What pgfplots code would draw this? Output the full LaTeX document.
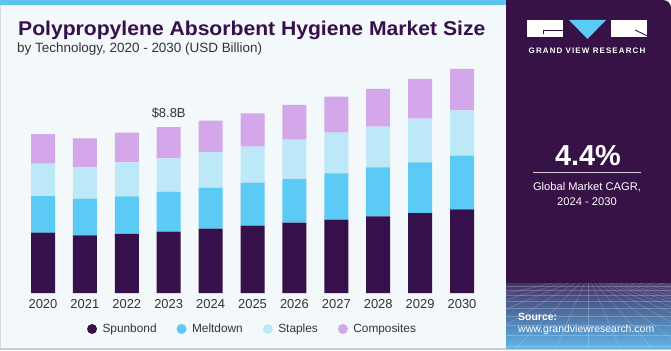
\documentclass[border=0pt]{standalone}
\usepackage{pgfplots}
\usepackage{pgfplotstable}
\pgfplotsset{compat=1.18}
\usepackage{fontspec}
\setmainfont{Liberation Sans}
\newfontfamily\gvrfont[LetterSpace=14]{Liberation Sans}
\definecolor{spun}{HTML}{36104A}
\definecolor{melt}{HTML}{5BCAF5}
\definecolor{stap}{HTML}{BCE8F8}
\definecolor{comp}{HTML}{D4A7EA}
\definecolor{cardbg}{HTML}{F3F8FB}
\definecolor{panel}{HTML}{371247}
\definecolor{gradtop}{HTML}{443468}
\definecolor{panelbot}{HTML}{5FB6E8}
\definecolor{stripe}{HTML}{5BC5EE}
\definecolor{txt}{HTML}{333333}
\definecolor{titlec}{HTML}{36104A}

\pgfplotstableread{
x spun melt stap comp
0 3.20 1.94 1.72 1.57
1 3.06 1.94 1.68 1.52
2 3.14 1.99 1.80 1.57
3 3.25 2.11 1.78 1.65
4 3.41 2.17 1.88 1.68
5 3.57 2.28 1.91 1.76
6 3.73 2.31 2.09 1.84
7 3.89 2.45 2.16 1.91
8 4.06 2.60 2.16 2.01
9 4.24 2.69 2.31 2.11
10 4.43 2.85 2.40 2.20
}\datatable

\begin{document}
\begin{tikzpicture}[x=1bp,y=1bp]
% canvas
\fill[white] (0,0) rectangle (671,350);
\fill[cardbg] (0,2) rectangle (506,350);
\fill[black!20] (0,0) rectangle (671,2);
\draw[black!15, line width=0.8bp] (0.4,2) -- (0.4,346);
\fill[stripe] (0,345) rectangle (507,350);
% right panel
\fill[panel] (506,2) -- (506,350) [rounded corners=8bp] -- (671,350) [sharp corners] -- (671,2) -- cycle;
\shade[top color=gradtop, bottom color=panelbot] (506,2) rectangle (671,67);
\begin{scope}
\clip (506,2) rectangle (671,67);
\foreach \yy in {64,60,55,49,42,34,25,15,4} {\draw[white, opacity=0.22, line width=0.5bp] (506,\yy) -- (671,\yy);}
\foreach \xx in {-200,-150,-110,-75,-45,-20,0,20,40,60,80,100,120,140,160,185,215,250,290,340,400} {\draw[white, opacity=0.22, line width=0.5bp] (588,75) -- (588+\xx*1.6,2);}
\end{scope}
% logo
\fill[white] (527,313) rectangle (563,330);
\fill[white] (610.7,313) rectangle (647,330);
\fill[melt] (569,330) -- (606,330) -- (587.5,311) -- cycle;
\draw[panel, line width=0.9bp] (543.3,315.7) -- (543.3,319.3) -- (563,319.3);
\draw[panel, line width=0.9bp] (635,320) -- (647,314.3);
\node[text=white, anchor=base, inner sep=0pt] at (587,296.5) {\gvrfont\bfseries\fontsize{8}{8}\selectfont GRAND VIEW RESEARCH};
% KPI
\node[text=white, anchor=base, inner sep=0pt] at (588,184.3) {\bfseries\fontsize{29}{29}\selectfont 4.4\%};
\draw[white!80!panel, line width=0.9bp] (533,177.3) -- (641,177.3);
\node[text=white, anchor=base, inner sep=0pt] at (587,160) {\fontsize{11.2}{11.2}\selectfont Global Market CAGR,};
\node[text=white, anchor=base, inner sep=0pt] at (587,145) {\fontsize{11.2}{11.2}\selectfont 2024 - 2030};
\node[text=white, anchor=base west, inner sep=0pt] at (518,30) {\bfseries\fontsize{10.5}{10.5}\selectfont Source:};
\node[text=white, anchor=base west, inner sep=0pt] at (518,17.3) {\fontsize{10.5}{10.5}\selectfont www.grandviewresearch.com};
% titles
\node[text=titlec, anchor=base west, inner sep=0pt] at (18,315) {\scalebox{1.06}[1]{\bfseries\fontsize{20}{20}\selectfont Polypropylene Absorbent Hygiene Market Size}};
\node[text=txt, anchor=base west, inner sep=0pt] at (17,297.3) {\fontsize{13.5}{13.5}\selectfont by Technology, 2020 - 2030 (USD Billion)};

\begin{axis}[
  at={(22.05bp,57bp)}, anchor=south west, scale only axis,
  width=460.9bp, height=226.3bp,
  xmin=-0.5, xmax=10.5, ymin=0, ymax=12,
  ybar stacked, bar width=24bp,
  axis line style={draw=none},
  ytick=\empty,
  xtick=data,
  xticklabels={2020,2021,2022,2023,2024,2025,2026,2027,2028,2029,2030},
  major tick length=0pt,
  /pgf/number format/assume math mode=true,
  xticklabel style={font=\fontsize{13}{13}\selectfont, text=txt, anchor=base, inner sep=0pt, yshift=-15.3bp},
  clip=false,
  legend columns=4,
  legend style={at={(0.5,-0.159)}, anchor=center, draw=none, fill=none,
    font=\fontsize{11.9}{11.9}\selectfont, text=txt,
    /tikz/every odd column/.append style={column sep=3.5bp},
    /tikz/every even column/.append style={column sep=18bp}},
  legend image code/.code={\fill[#1] (0bp,0bp) circle (5bp);},
]
\addplot[fill=spun, draw=none] table[x=x, y=spun] {\datatable};
\addlegendentry{Spunbond}
\addplot[fill=melt, draw=none] table[x=x, y=melt] {\datatable};
\addlegendentry{Meltdown}
\addplot[fill=stap, draw=none] table[x=x, y=stap] {\datatable};
\addlegendentry{Staples}
\addplot[fill=comp, draw=none] table[x=x, y=comp] {\datatable};
\addlegendentry{Composites}
\node[anchor=base, text=txt, inner sep=0pt, font=\fontsize{13}{13}\selectfont] at (axis cs:3,8.79) [yshift=10bp] {\$8.8B};
\end{axis}
\end{tikzpicture}
\end{document}
